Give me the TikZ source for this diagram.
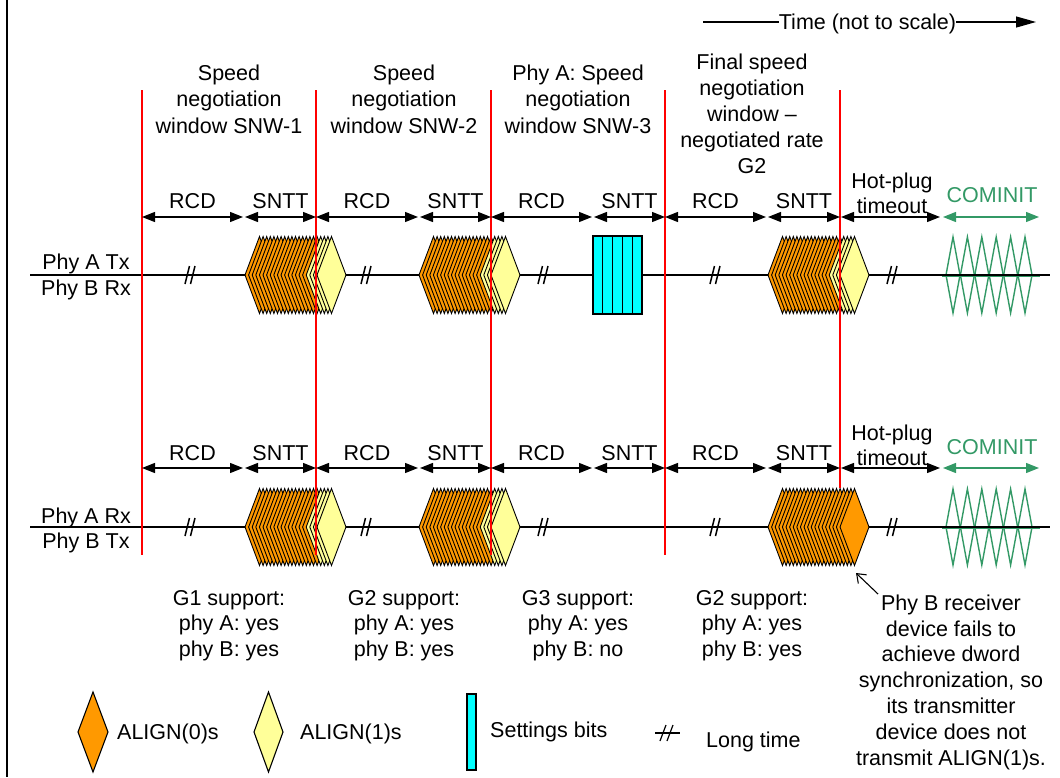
\documentclass[tikz,border=0pt]{standalone}
\usepackage{fontspec}
\setmainfont{Liberation Sans}
\usetikzlibrary{arrows.meta}
\definecolor{aorange}{HTML}{FF9900}
\definecolor{ayellow}{HTML}{FFFF99}
\definecolor{acyan}{HTML}{00FFFF}
\definecolor{agreen}{HTML}{339966}
\newcommand\myburst[3]{%
  \foreach \i in {0,...,20}{%
    \pgfmathsetmacro\bx{#1+3.6*\i}%
    \ifnum\i<#3\def\bc{aorange}\else\def\bc{ayellow}\fi
    \filldraw[diam, fill=\bc] (\bx,#2) -- ++(14.5,-38.5) -- ++(14.5,38.5) -- ++(-14.5,38.5) -- cycle;
  }}
\newcommand\myhash[2]{%
  \draw[line width=1.5pt] (#1-5,#2+9) -- (#1-0.5,#2-9);
  \draw[line width=1.5pt] (#1+0.5,#2+9) -- (#1+5,#2-9);}
\newcommand\mycominit[1]{%
  \draw[agreen, line width=3pt] (942,#1) -- (1040,#1);
  \foreach \i in {0,...,5}
    \draw[agreen, line width=1.4pt, line join=miter] ({953+14.4*\i},#1-38) -- ++(7,38) -- ++(-7,38) -- ++(-7,-38) -- cycle;}
\begin{document}
\begin{tikzpicture}[x=1pt,y=-1pt,
  lbl/.style={font=\fontsize{21.5}{26}\selectfont, align=center, inner sep=0pt, anchor=base},
  lblw/.style={font=\fontsize{21.5}{26}\selectfont, inner sep=0pt, anchor=base west},
  dim/.style={{Triangle[length=13pt,width=10pt]}-{Triangle[length=13pt,width=10pt]}, line width=1.3pt},
  gdim/.style={dim, agreen},
  redl/.style={draw=red, line width=1.3pt},
  phyl/.style={line width=1.3pt},
  diam/.style={draw=black, line width=0.9pt, line join=miter},
  sbox/.style={draw=black, line width=1.1pt, fill=acyan}]
\useasboundingbox (0,0) rectangle (1060,777);
\draw[line width=2pt] (7,0) -- (7,777);

% time arrow
\node[lbl] (time) at (867.5,29) {Time (not to scale)};
\coordinate (t0) at (703,22);
\coordinate (t1) at (1036,22);
\draw[line width=1.2pt] (t0) -- (time.west |- t0);
\draw[line width=1.2pt, -{Triangle[length=20pt,width=11pt]}] (time.east |- t0) -- (t1);

% window titles (anchor = baseline of last line)
\node[lbl, font=\fontsize{21.5}{26.5}\selectfont] (w1) at (229,133) {Speed\\negotiation\\window SNW-1};
\node[lbl, font=\fontsize{21.5}{26.5}\selectfont] (w2) at (404,133) {Speed\\negotiation\\window SNW-2};
\node[lbl, font=\fontsize{21.5}{26.5}\selectfont] (w3) at (578,133) {Phy A: Speed\\negotiation\\window SNW-3};
\node[lbl, font=\fontsize{21.5}{26}\selectfont] (w4) at (752,173) {Final speed\\negotiation\\window --\\negotiated rate\\G2};

% phy labels
\node[lbl] (pa) at (86,295) {Phy A Tx\\Phy B Rx};
\node[lbl, font=\fontsize{21.5}{25}\selectfont] (pb) at (86,548) {Phy A Rx\\Phy B Tx};

% COMINIT shapes (behind the lines)
\mycominit{275}
\mycominit{527}

% phy lines
\coordinate (l1a) at (30,275); \coordinate (l1b) at (1050,275);
\coordinate (l2a) at (30,527); \coordinate (l2b) at (1050,527);
\draw[phyl] (l1a) -- (l1b);
\draw[phyl] (l2a) -- (l2b);

% hashes
\foreach \hx in {190,366,543,715,892}{\myhash{\hx}{275}\myhash{\hx}{527}}

% bursts
\myburst{245}{275}{17}
\myburst{419}{275}{17}
\myburst{768}{275}{17}
\myburst{245}{527}{17}
\myburst{419}{527}{17}
\myburst{768}{527}{21}

% settings bits
\foreach \k in {0,...,4}
  \draw[sbox] ({593+9.8*\k},236) rectangle ++(9.8,78);

% red lines
\foreach \rx in {142,316,491,665}
  \draw[redl] (\rx,90) -- (\rx,555);
\draw[redl] (840,90) -- (840,488);

% dimension arrows
\foreach \y/\ly/\r in {217/208/a,468/460/b}{
  \foreach \a/\b/\t [count=\n] in {142/243/RCD,245/316/SNTT,316/418/RCD,420/491/SNTT,491/592/RCD,594/665/SNTT,665/766/RCD,768/840/SNTT}{
    \coordinate (d\r\n a) at (\a,\y);
    \coordinate (d\r\n b) at (\b,\y);
    \draw[dim] (d\r\n a) -- (d\r\n b);
    \node[lbl] (dl\r\n) at ({(\a+\b)/2},\ly) {\t};
  }
  \coordinate (h\r a) at (841,\y); \coordinate (h\r b) at (940,\y);
  \draw[dim] (h\r a) -- (h\r b);
  \coordinate (c\r a) at (943,\y); \coordinate (c\r b) at (1039,\y);
  \draw[gdim] (c\r a) -- (c\r b);
}
\node[lbl, font=\fontsize{21.5}{25}\selectfont] (hp1) at (892,213) {Hot-plug\\timeout};
\node[lbl, font=\fontsize{21.5}{25}\selectfont] (hp2) at (892,465) {Hot-plug\\timeout};
\node[lbl, text=agreen] (ci1) at (992,202) {COMINIT};
\node[lbl, text=agreen] (ci2) at (992,454) {COMINIT};

% support texts
\node[lbl, font=\fontsize{21.5}{25.5}\selectfont] (s1) at (229,656) {G1 support:\\phy A: yes\\phy B: yes};
\node[lbl, font=\fontsize{21.5}{25.5}\selectfont] (s2) at (404,656) {G2 support:\\phy A: yes\\phy B: yes};
\node[lbl, font=\fontsize{21.5}{25.5}\selectfont] (s3) at (578,656) {G3 support:\\phy A: yes\\phy B: no};
\node[lbl, font=\fontsize{21.5}{25.5}\selectfont] (s4) at (752,656) {G2 support:\\phy A: yes\\phy B: yes};
\node[lbl, font=\fontsize{21.5}{25.8}\selectfont] (rcv) at (951,765) {Phy B receiver\\device fails to\\achieve dword\\synchronization, so\\its transmitter\\device does not\\transmit ALIGN(1)s.};
\coordinate (ptail) at (878,594);
\coordinate (ptip) at (856,573);
\draw[line width=1.1pt, -{Straight Barb[length=8pt,width=12pt]}] (ptail) -- (ptip);

% legend
\filldraw[diam, line width=1.1pt, fill=aorange] (78,732) -- (93,692) -- (108,732) -- (93,772) -- cycle;
\node[lblw] (lg1) at (117,739) {ALIGN(0)s};
\filldraw[diam, line width=1.1pt, fill=ayellow] (254,732) -- (268.5,692) -- (283,732) -- (268.5,772) -- cycle;
\node[lblw] (lg2) at (300,739) {ALIGN(1)s};
\draw[sbox] (467,694) rectangle (476,770);
\node[lblw] (lg3) at (490,737) {Settings bits};
\draw[line width=1.1pt] (655,733) -- (680,733);
\draw[line width=1.2pt] (660,741) -- (666,725);
\draw[line width=1.2pt] (667,741) -- (673,725);
\node[lblw] (lg4) at (706,747) {Long time};
\end{tikzpicture}
\end{document}
